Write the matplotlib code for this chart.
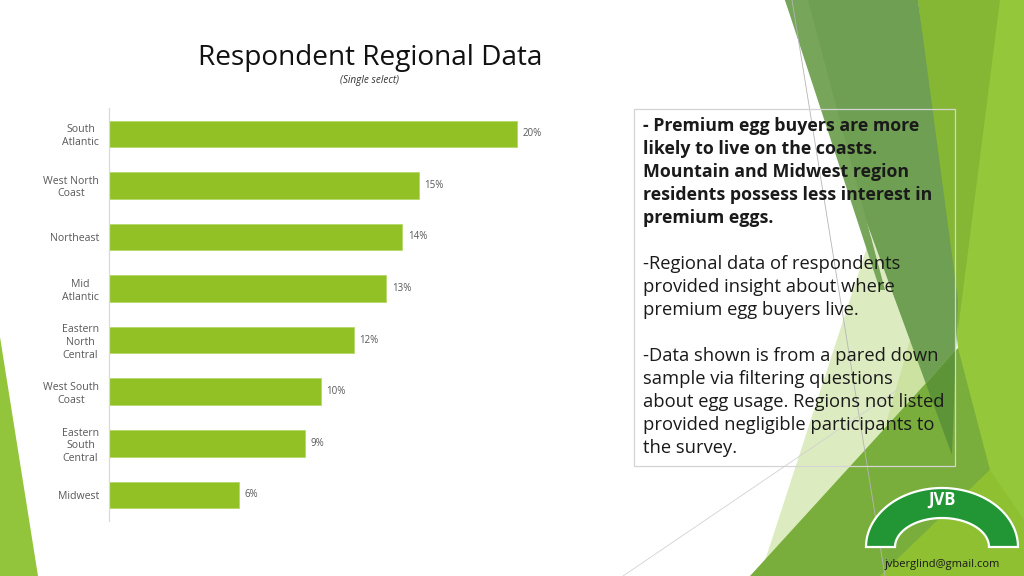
import matplotlib
matplotlib.use("Agg")
import matplotlib.pyplot as plt
from matplotlib.patches import Polygon, Rectangle
import numpy as np

# ---------------- data ----------------
regions = ["South\nAtlantic", "West North\nCoast", "Northeast", "Mid\nAtlantic",
           "Eastern\nNorth\nCentral", "West South\nCoast", "Eastern\nSouth\nCentral", "Midwest"]
shares = [20.0, 15.2, 14.4, 13.6, 12.0, 10.4, 9.6, 6.4]
share_labels = ["20%", "15%", "14%", "13%", "12%", "10%", "9%", "6%"]

title = "Respondent Regional Data"
subtitle = "(Single select)"
bold_lines = ["- Premium egg buyers are more", "likely to live on the coasts.",
              "Mountain and Midwest region", "residents possess less interest in",
              "premium eggs."]
para2 = ["-Regional data of respondents", "provided insight about where",
         "premium egg buyers live."]
para3 = ["-Data shown is from a pared down", "sample via filtering questions",
         "about egg usage. Regions not listed", "provided negligible participants to",
         "the survey."]

FONT = "Open Sans"
plt.rcParams["font.family"] = [FONT, "DejaVu Sans"]

W, H = 1024, 576
fig = plt.figure(figsize=(W / 100, H / 100), dpi=100)
fig.patch.set_facecolor("white")

# ---------------- background decoration (pixel coords) ----------------
bg = fig.add_axes([0, 0, 1, 1], zorder=0)
bg.set_xlim(0, W)
bg.set_ylim(H, 0)
bg.axis("off")

def poly(pts, color, z=1, alpha=1.0):
    bg.add_patch(Polygon(pts, closed=True, facecolor=color, edgecolor="none",
                         zorder=z, alpha=alpha))

# left sliver
poly([(0, 337), (38, 576), (0, 576)], "#92C43C")
# right side facets
poly([(918, 0), (1024, 0), (1024, 576), (850, 576), (958, 348)], "#95C73B")
poly([(918, 0), (1000, 0), (958, 330)], "#86B734")
poly([(871, 235), (952, 455), (760, 576)], "#DDEBC0")
poly([(910, 340), (952, 455), (870, 480)], "#CBE2A0")
poly([(785, 0), (918, 0), (958, 300), (952, 455)], "#6F9F52")
poly([(785, 0), (808, 0), (885, 290), (880, 290)], "#77A55A")
poly([(750, 576), (958, 348), (990, 470), (880, 576)], "#7AAE3C")
poly([(926, 384), (956, 350), (952, 455)], "#5E9438")
poly([(880, 576), (990, 470), (1024, 520), (1024, 576)], "#8FC032")
bg.plot([792, 885], [0, 576], color="#b5b5b5", lw=0.6, zorder=2)
bg.plot([623, 900], [576, 388], color="#d2d2d2", lw=0.6, zorder=2)

# text box frame
bg.add_patch(Rectangle((634, 109), 321, 357, facecolor="none", edgecolor="#d4d4d4",
                       lw=0.9, zorder=3))
y0, pitch = 126, 23
for i, line in enumerate(bold_lines):
    bg.text(643, y0 + pitch * i, line, fontsize=12.8, fontweight="bold",
            color="#1a1a1a", va="center", ha="left", zorder=4)
for i, line in enumerate(para2):
    bg.text(643, y0 + pitch * (6 + i), line, fontsize=13.2, color="#1a1a1a",
            va="center", ha="left", zorder=4)
for i, line in enumerate(para3):
    bg.text(643, y0 + pitch * (10 + i), line, fontsize=13.2, color="#1a1a1a",
            va="center", ha="left", zorder=4)

# logo arch
cx, cy = 942, 547
t = np.linspace(0, np.pi, 80)
outer = np.column_stack([cx + 76 * np.cos(t), cy - 59 * np.sin(t)])
inner = np.column_stack([cx + 47 * np.cos(t[::-1]), cy - 29 * np.sin(t[::-1])])
bg.add_patch(Polygon(np.vstack([outer, inner]), closed=True, facecolor="#229634",
                     edgecolor="white", lw=1.6, zorder=5))
bg.text(cx, 500, "JVB", fontsize=12, fontweight="bold", color="white",
        ha="center", va="center", zorder=6)
bg.text(cx, 565, "jvberglind@gmail.com", fontsize=8, color="#1a1a1a",
        ha="center", va="center", zorder=6)

# titles
bg.text(370, 58, title, fontsize=20.2, color="#111111", ha="center", va="center", zorder=4)
bg.text(370, 81, subtitle, fontsize=7.2, style="italic", color="#333333",
        ha="center", va="center", zorder=4)

# ---------------- bar chart ----------------
left_px, top_px, bot_px = 108.7, 108.0, 520.7
xmax = 25
right_px = left_px + 20.4 * xmax
ax = fig.add_axes([left_px / W, 1 - bot_px / H, (right_px - left_px) / W,
                   (bot_px - top_px) / H], zorder=2)
ax.patch.set_alpha(0)
ypos = np.arange(len(regions))
bars = ax.barh(ypos, shares, height=0.515, color="#92C126", edgecolor="#b5d96a",
               linewidth=0.6)
ax.set_xlim(0, xmax)
ax.set_ylim(len(regions) - 0.5, -0.5)
ax.set_yticks(ypos)
ax.set_yticklabels(regions, fontsize=7.6, color="#595959", linespacing=1.2)
for lab in ax.get_yticklabels():
    lab.set_multialignment("center")
ax.tick_params(axis="y", length=0, pad=7)
ax.set_xticks([])
for s in ["top", "right", "bottom"]:
    ax.spines[s].set_visible(False)
ax.spines["left"].set_color("#d9d9d9")
ax.spines["left"].set_linewidth(0.9)
for b, lab in zip(bars, share_labels):
    ax.annotate(lab, (b.get_width(), b.get_y() + b.get_height() / 2),
                xytext=(4, 0), textcoords="offset points", va="center", ha="left",
                fontsize=7, color="#595959")

fig.savefig("out.png", dpi=100)
